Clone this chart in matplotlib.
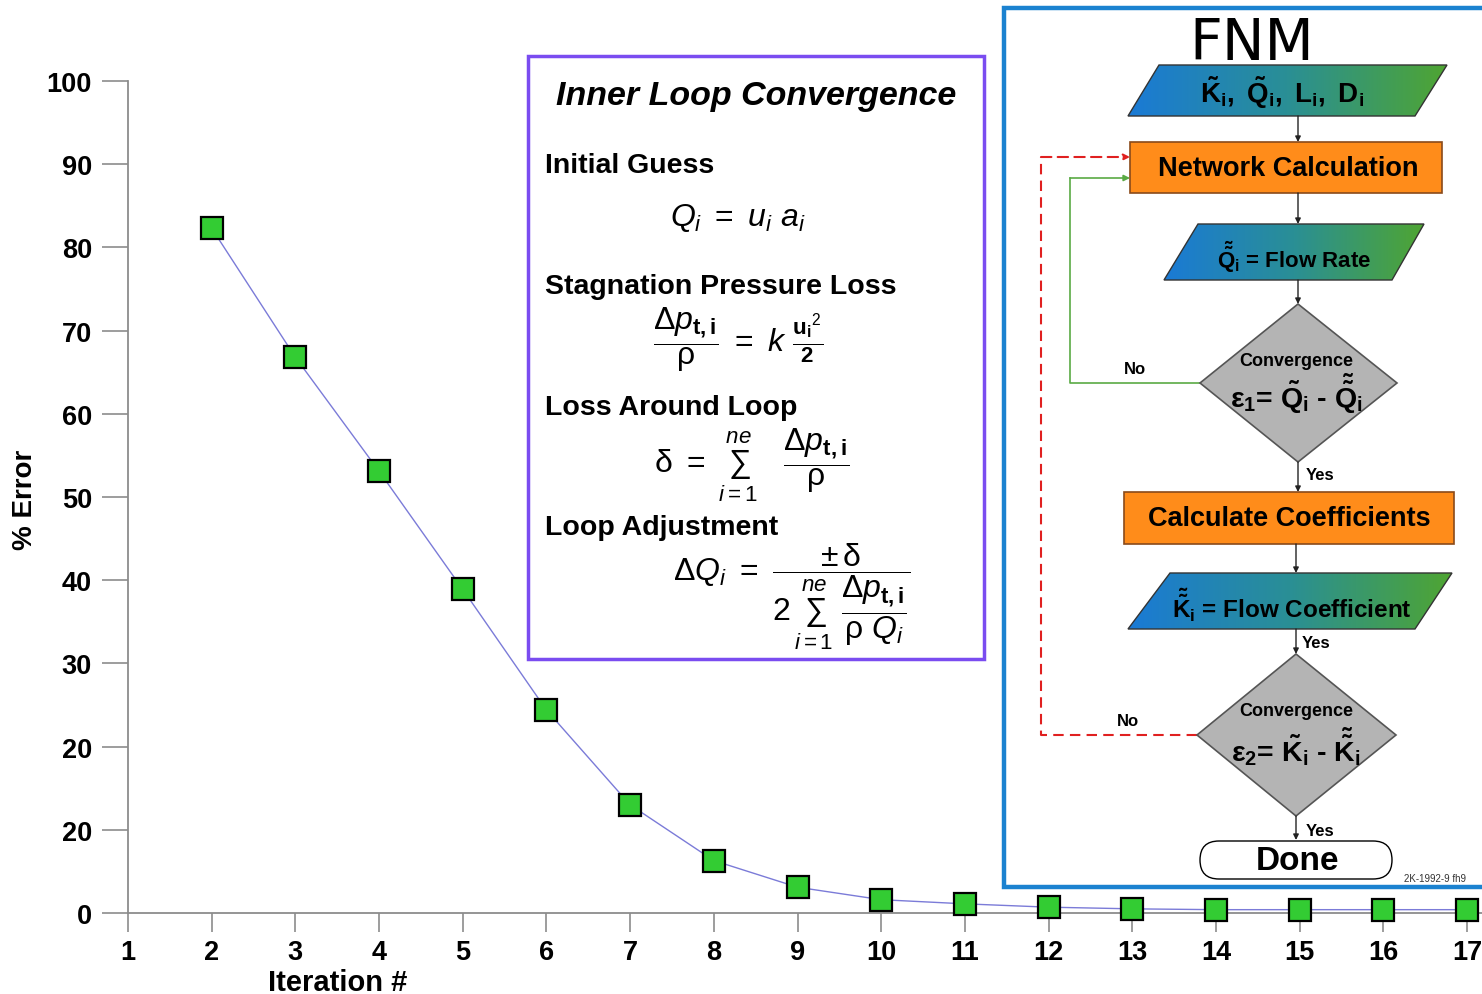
import numpy as np
import matplotlib.pyplot as plt
from matplotlib.patches import Rectangle, Polygon, FancyBboxPatch
from matplotlib.colors import LinearSegmentedColormap

plt.rcParams['font.family'] = ['Liberation Sans', 'DejaVu Sans']
plt.rcParams['mathtext.fontset'] = 'custom'
plt.rcParams['mathtext.rm'] = 'Liberation Sans'
plt.rcParams['mathtext.it'] = 'Liberation Sans:italic'
plt.rcParams['mathtext.bf'] = 'Liberation Sans:bold'

# data
iterations = [2, 3, 4, 5, 6, 7, 8, 9, 10, 11, 12, 13, 14, 15, 16, 17]
pct_error = [82.3, 66.8, 53.1, 38.9, 24.4, 13.0, 6.3, 3.1, 1.6, 1.1, 0.7, 0.5, 0.4, 0.4, 0.4, 0.4]
x_ticks = list(range(1, 18))
y_ticks = [0, 10, 20, 30, 40, 50, 60, 70, 80, 90, 100]
y_tick_labels = ['0', '20', '20', '30', '40', '50', '60', '70', '80', '90', '100']

W, H = 1482, 995
fig = plt.figure(figsize=(W / 100, H / 100), dpi=100)

# --- convergence curve ---
ax = fig.add_axes([128 / W, (H - 914) / H, (W - 128) / W, (914 - 82) / H])
ax.plot(iterations, pct_error, color='#7b7bd8', lw=1.0, zorder=2)
ax.plot(iterations, pct_error, ls='none', marker='s', ms=16, mfc='#33cc33',
        mec='black', mew=1.6, zorder=3, clip_on=False)
ax.set_xlim(1, 1 + (W - 128) / ((1467 - 128) / 16))
ax.set_ylim(0, 100)
ax.set_yticks(y_ticks, labels=y_tick_labels, fontweight='bold', fontsize=19.5)
ax.set_xticks(x_ticks, labels=[str(t) for t in x_ticks], fontweight='bold', fontsize=19.5)
for s in ['top', 'right']:
    ax.spines[s].set_visible(False)
for s in ['left', 'bottom']:
    ax.spines[s].set_color('#8c8c8c')
    ax.spines[s].set_linewidth(1.3)
ax.tick_params(axis='y', length=19, width=1.2, color='#8c8c8c', pad=7)
ax.tick_params(axis='x', length=14, width=1.2, color='#8c8c8c', pad=5)

fig.text(25 / W, 1 - 500 / H, '% Error', rotation=90, ha='center', va='center',
         fontsize=20, fontweight='bold')
fig.text(338 / W, 1 - 983 / H, 'Iteration #', ha='center', va='center',
         fontsize=21, fontweight='bold')

# --- overlay in pixel coordinates for the boxes and the flowchart ---
ov = fig.add_axes([0, 0, 1, 1], zorder=5)
ov.axis('off')

# inner loop box
ov.add_patch(Rectangle((528, 57), 456, 603, fc='white', ec='#7a4cf0', lw=2.5))
ov.text(756, 97, 'Inner Loop Convergence', ha='center', va='center',
        fontsize=24.5, fontweight='bold', style='italic')
heads = [('Initial Guess', 166), ('Stagnation Pressure Loss', 287),
         ('Loss Around Loop', 408), ('Loop Adjustment', 528)]
for t, y in heads:
    ov.text(545, y, t, ha='left', va='center', fontsize=20.5, fontweight='bold')

ov.text(738, 218, r'$Q_i\ =\ u_i\ a_i$', ha='center', va='center', fontsize=23)
ov.text(738, 340, r'$\dfrac{\Delta p_{\mathbf{t,i}}}{\mathrm{\rho}}\ =\ k\ \frac{\mathbf{u_i}^{2}}{\mathbf{2}}$',
        ha='center', va='center', fontsize=23)
ov.text(752, 465, r'$\mathrm{\delta}\ =\ \sum_{i=1}^{ne}\quad\dfrac{\Delta p_{\mathbf{t,i}}}{\mathrm{\rho}}$',
        ha='center', va='center', fontsize=23)
ov.text(792, 597, r'$\Delta Q_i\ =\ \dfrac{\pm\,\mathrm{\delta}}{2\,\sum_{i=1}^{ne}\ \dfrac{\Delta p_{\mathbf{t,i}}}{\mathrm{\rho}\ Q_i}}$',
        ha='center', va='center', fontsize=23)

# FNM box
ov.add_patch(Rectangle((1004, 9), 520, 879, fc='white', ec='#1b82d0', lw=3.2))
ov.text(1252, 44, 'FNM', ha='center', va='center', fontsize=41, family='DejaVu Sans')

grad_cmap = LinearSegmentedColormap.from_list('bg', ['#1a7ad6', '#2a8f95', '#4fa532'])


def parallelogram(tl, tr, bl, br, yt, yb):
    poly = Polygon([(tl, yt), (tr, yt), (br, yb), (bl, yb)], closed=True,
                   fc='none', ec='#333333', lw=1, zorder=3)
    ov.add_patch(poly)
    im = ov.imshow(np.linspace(0, 1, 256)[None, :], extent=[min(tl, bl), max(tr, br), yb, yt],
                   cmap=grad_cmap, aspect='auto', zorder=2)
    im.set_clip_path(poly)


def box(x0, y0, x1, y1):
    ov.add_patch(Rectangle((x0, y0), x1 - x0, y1 - y0, fc='#ff8c1a', ec='#8a4a1a', lw=1.2, zorder=3))


def diamond(cx, yt, xl, xr, yb):
    ym = (yt + yb) / 2
    ov.add_patch(Polygon([(cx, yt), (xr, ym), (cx, yb), (xl, ym)], closed=True,
                         fc='#b4b4b4', ec='#555555', lw=1.2, zorder=3))


def arrow(x, y0, y1):
    ov.annotate('', xy=(x, y1), xytext=(x, y0),
                arrowprops=dict(arrowstyle='-|>', color='#222222', lw=1, mutation_scale=8,
                                shrinkA=0, shrinkB=0), zorder=4)


parallelogram(1159, 1447, 1128, 1415, 66, 117)
ov.text(1282, 93, r'$\mathbf{\tilde{K}_i,\ \tilde{Q}_i,\ L_i,\ D_i}$', ha='center', va='center',
        fontsize=20, zorder=5)
arrow(1298, 117, 143)
box(1130, 143, 1442, 194)
ov.text(1288, 169, 'Network Calculation', ha='center', va='center', fontsize=19.5,
        fontweight='bold', zorder=5)
arrow(1298, 194, 225)
parallelogram(1198, 1424, 1164, 1392, 225, 281)
ov.text(1294, 257, r'$\mathbf{\tilde{\tilde{Q}}_i}$ = Flow Rate', ha='center', va='center',
        fontsize=16, fontweight='bold', zorder=5)
arrow(1298, 281, 305)
diamond(1298, 305, 1200, 1397, 463)
ov.text(1296, 361, 'Convergence', ha='center', va='center', fontsize=13, fontweight='bold', zorder=5)
ov.text(1296, 394, r'$\mathbf{\varepsilon_1}$= $\mathbf{\tilde{Q}_i}$ - $\mathbf{\tilde{\tilde{Q}}_i}$',
        ha='center', va='center', fontsize=20.5, fontweight='bold', zorder=5)
arrow(1298, 463, 493)
ov.text(1306, 475, 'Yes', ha='left', va='center', fontsize=12, fontweight='bold')
box(1124, 493, 1454, 545)
ov.text(1289, 519, 'Calculate Coefficients', ha='center', va='center', fontsize=19.5,
        fontweight='bold', zorder=5)
arrow(1296, 545, 574)
parallelogram(1170, 1452, 1128, 1415, 574, 630)
ov.text(1292, 605, r'$\mathbf{\tilde{\tilde{K}}_i}$ = Flow Coefficient', ha='center', va='center',
        fontsize=17.5, fontweight='bold', zorder=5)
arrow(1296, 630, 655)
ov.text(1302, 644, 'Yes', ha='left', va='center', fontsize=12, fontweight='bold')
diamond(1296, 655, 1197, 1396, 817)
ov.text(1296, 712, 'Convergence', ha='center', va='center', fontsize=13, fontweight='bold', zorder=5)
ov.text(1296, 747, r'$\mathbf{\varepsilon_2}$= $\mathbf{\tilde{K}_i}$ - $\mathbf{\tilde{\tilde{K}}_i}$',
        ha='center', va='center', fontsize=20.5, fontweight='bold', zorder=5)
arrow(1296, 817, 841)
ov.text(1306, 832, 'Yes', ha='left', va='center', fontsize=12, fontweight='bold')
ov.add_patch(FancyBboxPatch((1200, 842), 192, 38, boxstyle='round,pad=0,rounding_size=19',
                            fc='white', ec='black', lw=1, zorder=3))
ov.text(1297, 862, 'Done', ha='center', va='center', fontsize=24, fontweight='bold', zorder=5)
ov.text(1404, 879, '2K-1992-9 fh9', ha='left', va='center', fontsize=7, color='#333333')

# feedback loops
ov.plot([1200, 1070, 1070], [384, 384, 179], color='#5aaa44', lw=1.2)
ov.annotate('', xy=(1130, 179), xytext=(1070, 179),
            arrowprops=dict(arrowstyle='-|>', color='#5aaa44', lw=1.2, mutation_scale=9,
                            shrinkA=0, shrinkB=0))
ov.text(1135, 370, 'No', ha='center', va='center', fontsize=12, fontweight='bold')
ov.plot([1197, 1041, 1041], [736, 736, 158], color='#e02020', lw=1.5, ls=(0, (5, 3)))
ov.annotate('', xy=(1130, 158), xytext=(1041, 158),
            arrowprops=dict(arrowstyle='-|>', color='#e02020', lw=1.5, ls=(0, (5, 3)),
                            mutation_scale=9, shrinkA=0, shrinkB=0))
ov.text(1128, 722, 'No', ha='center', va='center', fontsize=12, fontweight='bold')

ov.set_xlim(0, W)
ov.set_ylim(H, 0)

fig.savefig('out.png', dpi=100)
